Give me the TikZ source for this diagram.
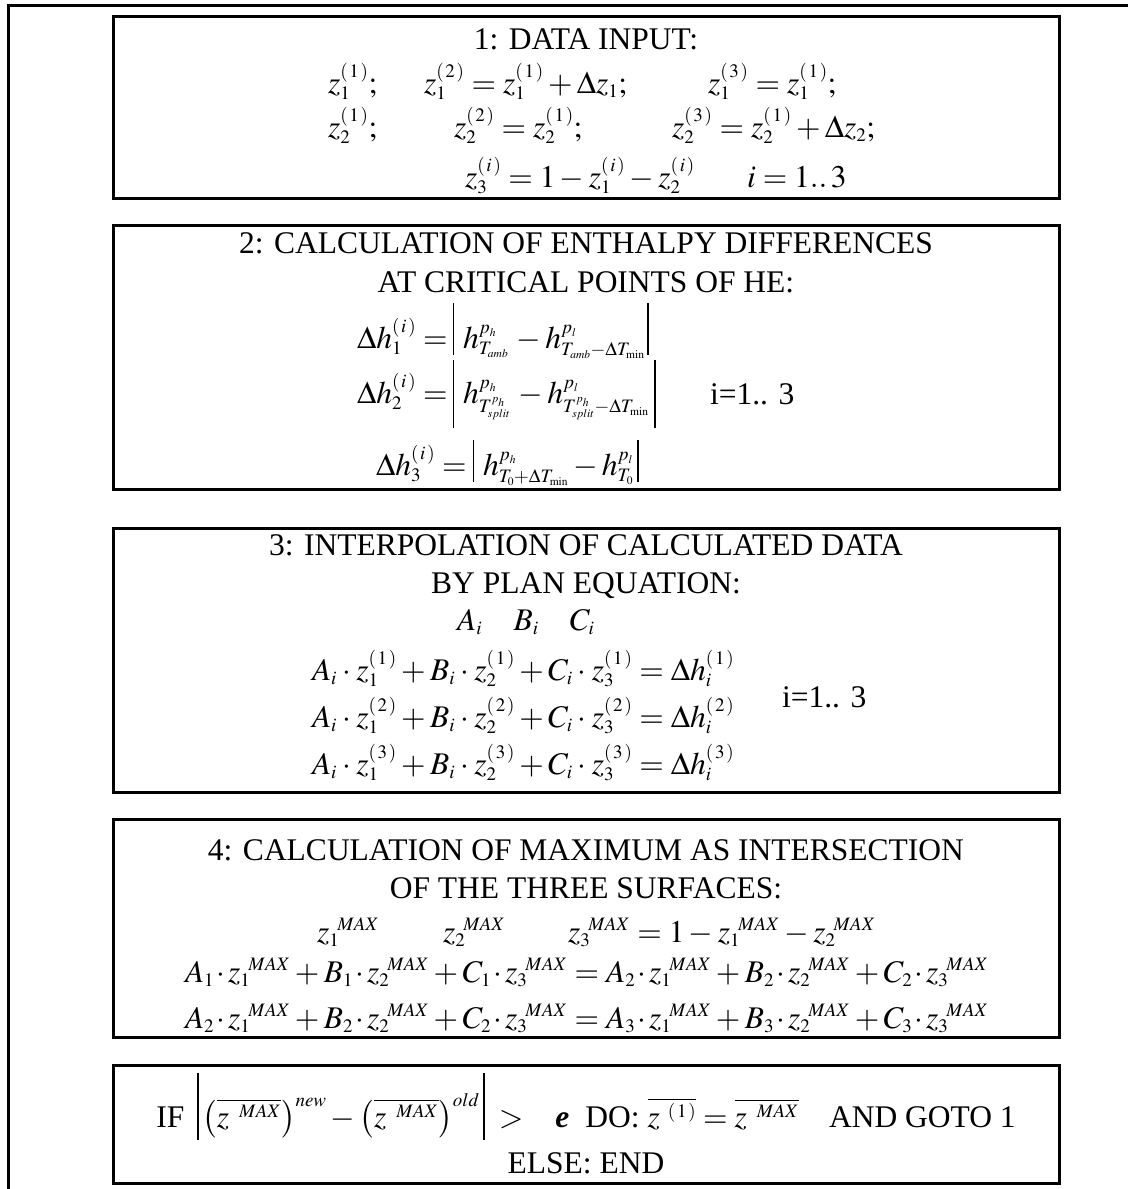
\documentclass[tikz,border=0pt]{standalone}
\usepackage{mathptmx}
\usepackage[no-math]{fontspec}
\setmainfont{Liberation Serif}
\DeclareMathSizes{31.5}{31.5}{19}{11.5}
\newcommand\mybar[2]{\vrule height #1pt depth #2pt width 1.7pt}
\newcommand\pq[1]{(\kern1.8pt#1\kern1.8pt)}
\newcommand\cdd{\mkern1.5mu{\cdot}\mkern1.5mu}
\newcommand\cdm{\mkern3mu{\cdot}\mkern3mu}
\newcommand\zM[1]{z_{#1}{}^{\kern-2pt MAX}}
\newcommand\zbar{\overline{z\kern10pt{}^{MAX}}}
\begin{document}
\begin{tikzpicture}[x=1pt,y=-1pt,
  box/.style={draw, line width=3pt, inner sep=0pt, outer sep=0pt},
  txt/.style={inner sep=0pt, outer sep=0pt, font=\fontsize{31.5}{38}\selectfont},
  bw/.style={txt, anchor=base west},
  bc/.style={txt, anchor=base}]
\useasboundingbox (0,0) rectangle (1128,1189);
% outer frame
\coordinate (fa) at (8.5,1189);
\coordinate (fb) at (8.5,5.5);
\coordinate (fc) at (1128,5.5);
\draw[line width=3pt] (fa) -- (fb) -- (fc);
% boxes
\node[box, minimum width=946pt, minimum height=182pt] (b1) at (586,107) {};
\node[box, minimum width=946pt, minimum height=264pt] (b2) at (586,357) {};
\node[box, minimum width=946pt, minimum height=264pt] (b3) at (586,660) {};
\node[box, minimum width=946pt, minimum height=218pt] (b4) at (586,928) {};
\node[box, minimum width=946pt, minimum height=118pt] (b5) at (586,1124) {};
% box 1
\node[bc] (t1) at (586,49) {1: DATA INPUT:};
\node[bw] (r11) at (328,93) {$z_1^{\pq{1}};$};
\node[bw] (r12) at (424,93) {$z_1^{\pq{2}}=z_1^{\pq{1}}+\Delta z_1;$};
\node[bw] (r13) at (708,93) {$z_1^{\pq{3}}=z_1^{\pq{1}};$};
\node[bw] (r21) at (328,137) {$z_2^{\pq{1}};$};
\node[bw] (r22) at (454,137) {$z_2^{\pq{2}}=z_2^{\pq{1}};$};
\node[bw] (r23) at (672,137) {$z_2^{\pq{3}}=z_2^{\pq{1}}+\Delta z_2;$};
\node[bw] (r31) at (465,187) {$z_3^{\pq{i}}=1-z_1^{\pq{i}}-z_2^{\pq{i}}$};
\node[bw] (r32) at (747,187) {$i=1..\,3$};
% box 2
\node[bc] (t2a) at (586,253) {2: CALCULATION OF ENTHALPY DIFFERENCES};
\node[bc] (t2b) at (586,292) {AT CRITICAL POINTS OF HE:};
\node[bw] (h1) at (357,348) {$\Delta h_1^{\pq{i}}=\kern5pt\mybar{45}{7}\mkern1mu h^{p_h}_{T_{amb}}\,-h^{p_l}_{T_{amb}-\Delta T_{\min}}\mkern1mu\mybar{45}{7}$};
\node[bw] (h2) at (357,403) {$\Delta h_2^{\pq{i}}=\kern5pt\mybar{43}{25}\mkern1mu h^{p_h}_{T^{p_h}_{split}}\,-h^{p_l}_{T^{p_h}_{split}-\Delta T_{\min}}\mkern3mu\mybar{43}{25}$};
\node[bw] (h2i) at (710,404) {i=1.. 3};
\node[bw] (h3) at (376,475) {$\Delta h_3^{\pq{i}}=\kern6pt\mybar{35}{7}\mkern1mu h^{p_h}_{T_0+\Delta T_{\min}}-h^{p_l}_{T_0}\mkern2mu\mybar{35}{7}$};
% box 3
\node[bc] (t3a) at (586,555) {3: INTERPOLATION OF CALCULATED DATA};
\node[bc] (t3b) at (586,593) {BY PLAN EQUATION:};
\node[bw] (abc) at (457,630) {$A_i\quad B_i\quad C_i$};
\node[bw] (e1) at (312,680) {$A_i\cdm z_1^{\pq{1}}+B_i\cdm z_2^{\pq{1}}+C_i\cdm z_3^{\pq{1}}=\Delta h_i^{\pq{1}}$};
\node[bw] (e2) at (312,727) {$A_i\cdm z_1^{\pq{2}}+B_i\cdm z_2^{\pq{2}}+C_i\cdm z_3^{\pq{2}}=\Delta h_i^{\pq{2}}$};
\node[bw] (e3) at (312,774) {$A_i\cdm z_1^{\pq{3}}+B_i\cdm z_2^{\pq{3}}+C_i\cdm z_3^{\pq{3}}=\Delta h_i^{\pq{3}}$};
\node[bw] (e3i) at (782,707) {i=1.. 3};
% box 4
\node[bc] (t4a) at (586,860) {4: CALCULATION OF MAXIMUM AS INTERSECTION};
\node[bc] (t4b) at (586,898) {OF THE THREE SURFACES:};
\node[bw] (m1) at (317,942) {$\zM{1}$};
\node[bw] (m2) at (443,942) {$\zM{2}$};
\node[bw] (m3) at (568,942) {$\zM{3}=1-\zM{1}-\zM{2}$};
\node[bw] (s1) at (185,982) {$A_1\cdd\zM{1}+B_1\cdd\zM{2}+C_1\cdd\zM{3}=A_2\cdd\zM{1}+B_2\cdd\zM{2}+C_2\cdd\zM{3}$};
\node[bw] (s2) at (185,1028) {$A_2\cdd\zM{1}+B_2\cdd\zM{2}+C_2\cdd\zM{3}=A_3\cdd\zM{1}+B_3\cdd\zM{2}+C_3\cdd\zM{3}$};
% box 5
\node[bc] (c1) at (586,1127) {IF\hspace{13pt}$\mybar{54}{13}\mkern2mu\left(\zbar\right)^{new}-\left(\zbar\right)^{old}\mkern2mu\mybar{54}{13}$\hspace{14pt}$>$\hspace{32pt}\textbf{\textit{e}}\hspace{16pt}DO:\hspace{8pt}$\overline{z\kern8pt{}^{\pq{1}}}=\zbar$\hspace{30pt}AND GOTO 1};
\node[bc] (c2) at (586,1173) {ELSE: END};
\end{tikzpicture}
\end{document}
